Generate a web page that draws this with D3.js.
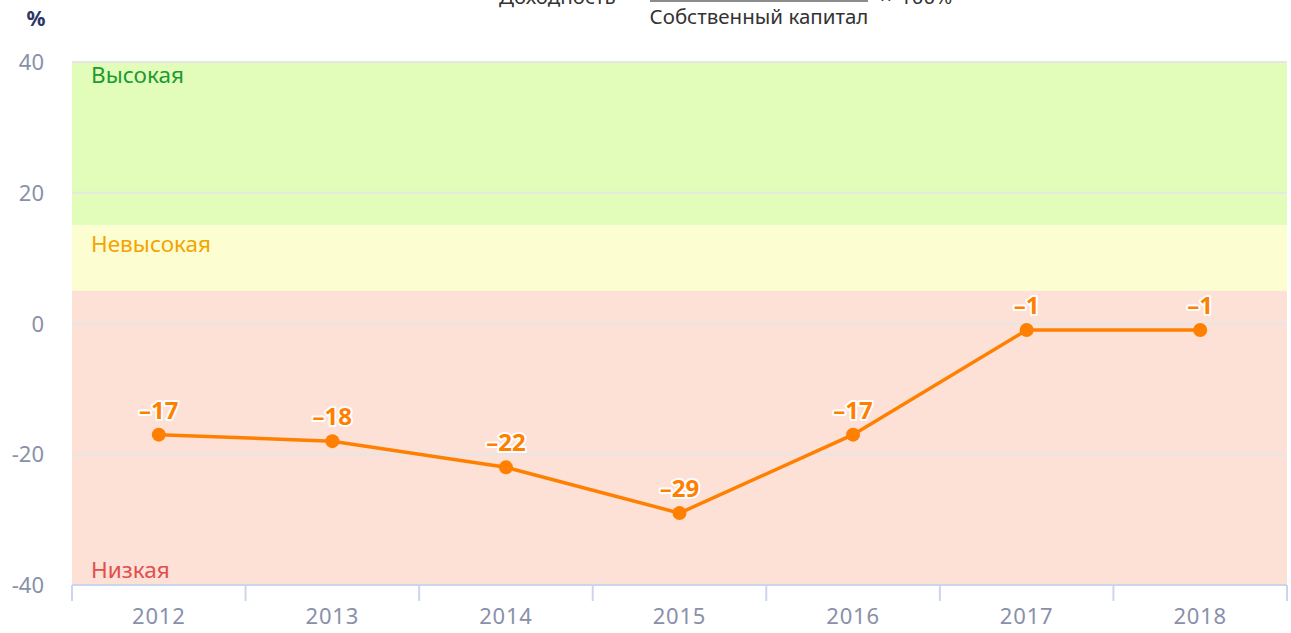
<!DOCTYPE html>
<html>
<head>
<meta charset="utf-8">
<script src="https://cdn.jsdelivr.net/npm/d3@7"></script>
<style>
  body{margin:0;background:#fff;}
  svg text{font-family:"Noto Sans",sans-serif;}
</style>
</head>
<body>
<svg id="chart"></svg>
<script>
// data
const years = ["2012","2013","2014","2015","2016","2017","2018"];
const values = [-17,-18,-22,-29,-17,-1,-1];
const yTicks = [-40,-20,0,20,40];
const bandNames = ["Высокая","Невысокая","Низкая"];
const bandFrom = [15,5,-40];
const bandTo = [40,15,5];

const width = 1291, height = 633;
const margin = {left:72, right:4, top:62, bottom:48};
const innerW = width-margin.left-margin.right;
const innerH = height-margin.top-margin.bottom;

const svg = d3.select("#chart").attr("width",width).attr("height",height);

// formula at top, numerator is off screen like in the source
const f = svg.append("g").attr("fill","#333").attr("font-size",20.5);
f.append("text").attr("x",499).attr("y",4).text("Доходность");
f.append("text").attr("x",618).attr("y",4).text("=");
f.append("line").attr("x1",650).attr("x2",868).attr("y1",1).attr("y2",1)
  .attr("stroke","#666").attr("stroke-width",1.5);
f.append("text").attr("x",759).attr("y",24).attr("text-anchor","middle").text("Собственный капитал");
f.append("text").attr("x",880).attr("y",4).text("×");
f.append("text").attr("x",900).attr("y",4).text("100%");

svg.append("text").attr("x",36).attr("y",26).attr("text-anchor","middle")
  .attr("font-size",21).attr("font-weight","bold").attr("fill","#2d3566").text("%");

const chart = svg.append("g").attr("transform",`translate(${margin.left},${margin.top})`);

const x = d3.scaleBand().domain(years).range([0,innerW]);
const y = d3.scaleLinear().domain([-40,40]).range([innerH,0]);

// plot bands
const bandFill = ["#e2fdb9","#fdfdd2","#fde0d6"];
const bandText = ["#1d9a30","#f5a300","#df4f4e"];
const labelDy = [21,27,-7];
chart.selectAll(".band").data(bandNames).join("rect")
  .attr("class","band")
  .attr("x",0).attr("width",innerW)
  .attr("y",(d,i)=>y(bandTo[i]))
  .attr("height",(d,i)=>y(bandFrom[i])-y(bandTo[i]))
  .attr("fill",(d,i)=>bandFill[i]);

// grid
chart.selectAll(".grid").data(yTicks.filter(d=>d>-40)).join("line")
  .attr("class","grid")
  .attr("x1",0).attr("x2",innerW)
  .attr("y1",d=>y(d)).attr("y2",d=>y(d))
  .attr("stroke","#e6e6e6").attr("stroke-width",2);

chart.selectAll(".bandlabel").data(bandNames).join("text")
  .attr("class","bandlabel")
  .attr("x",19)
  .attr("y",(d,i)=> i==2 ? y(bandFrom[i])+labelDy[i] : y(bandTo[i])+labelDy[i])
  .attr("font-size",22.5)
  .attr("fill",(d,i)=>bandText[i])
  .text(d=>d);

// y axis labels
chart.selectAll(".ylab").data(yTicks).join("text")
  .attr("class","ylab")
  .attr("x",-28).attr("y",d=>y(d)+8)
  .attr("text-anchor","end")
  .attr("font-size",22)
  .attr("fill","#8990aa")
  .text(d=>d);

// x axis
const xAxis = chart.append("g").attr("transform",`translate(0,${innerH})`);
xAxis.append("line").attr("x1",0).attr("x2",innerW).attr("stroke","#ccd6eb").attr("stroke-width",2);
xAxis.selectAll(".tick").data(years.concat(["end"])).join("line")
  .attr("x1",(d,i)=>i*x.step()).attr("x2",(d,i)=>i*x.step())
  .attr("y1",0).attr("y2",16)
  .attr("stroke","#ccd6eb").attr("stroke-width",2);
xAxis.selectAll(".xlab").data(years).join("text")
  .attr("x",d=>x(d)+x.bandwidth()/2).attr("y",39)
  .attr("text-anchor","middle")
  .attr("font-size",22).attr("letter-spacing",0.8)
  .attr("fill","#8990aa")
  .text(d=>d);

// line
const line = d3.line().x((d,i)=>x(years[i])+x.bandwidth()/2).y(d=>y(d));
chart.append("path").datum(values)
  .attr("d",line).attr("fill","none")
  .attr("stroke","#ff8000").attr("stroke-width",3.5);

chart.selectAll(".pt").data(values).join("circle")
  .attr("cx",(d,i)=>x(years[i])+x.bandwidth()/2)
  .attr("cy",d=>y(d)).attr("r",7)
  .attr("fill","#ff8000");

chart.selectAll(".val").data(values).join("text")
  .attr("x",(d,i)=>x(years[i])+x.bandwidth()/2)
  .attr("y",d=>y(d)-16)
  .attr("text-anchor","middle")
  .attr("font-size",24).attr("font-weight","bold")
  .attr("fill","#ff8000")
  .attr("stroke","#fff").attr("stroke-width",4).attr("paint-order","stroke")
  .attr("stroke-linejoin","round")
  .text(d=>"\u2013"+Math.abs(d));
</script>
</body>
</html>
